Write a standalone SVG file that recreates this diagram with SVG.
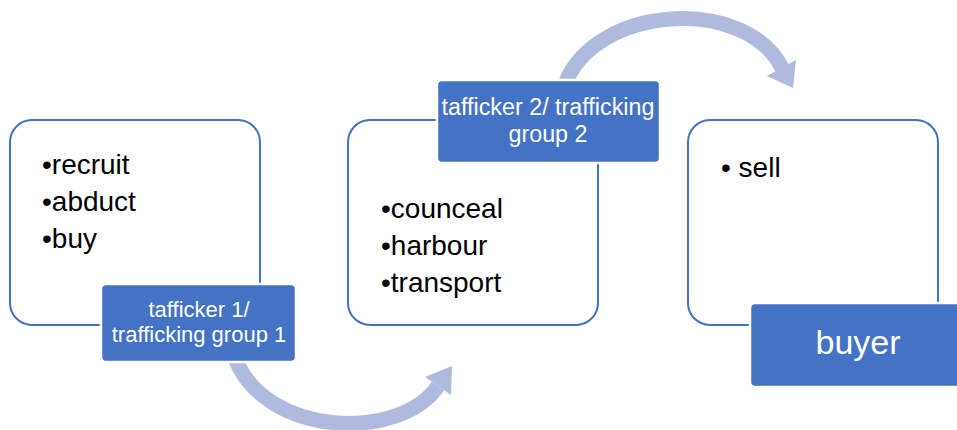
<svg xmlns="http://www.w3.org/2000/svg" width="957" height="430" viewBox="0 0 957 430">
<defs>
<style>
.box{fill:#fff;stroke:#4472C4;stroke-width:2}
.lbl{fill:#4472C4;stroke:#fff;stroke-width:2.5}
.item{font-family:"Liberation Sans",Arial,sans-serif;font-size:28px;fill:#000}
.ltxt{font-family:"Liberation Sans",Arial,sans-serif;fill:#fff;text-anchor:middle}
.arc{fill:none;stroke:#AFBADD;stroke-width:15}
.head{fill:#AFBADD}
</style>
</defs>
<rect width="957" height="430" fill="#fff"/>
<g id="connectors">
<path class="arc" d="M235,358 C265,437 400,442 438,386"/>
<polygon class="head" points="425,377 452,366 451,395"/>
<path class="arc" d="M565,84 C595,5 745,-5 782,68"/>
<polygon class="head" points="767,76 796,60 793,88"/>
</g>
<g id="node1">
<rect class="box" x="10" y="120" width="250" height="205" rx="22"/>
<text class="item" x="42" y="174">•recruit</text>
<text class="item" x="42" y="211">•abduct</text>
<text class="item" x="42" y="248">•buy</text>
</g>
<g id="label1">
<rect class="lbl" x="101" y="284" width="195" height="78" rx="5"/>
<text class="ltxt" font-size="22" x="199" y="317">tafficker 1/</text>
<text class="ltxt" font-size="22" x="199" y="342">trafficking group 1</text>
</g>
<g id="node2">
<rect class="box" x="348" y="120" width="250" height="205" rx="22"/>
<text class="item" x="381" y="218">•counceal</text>
<text class="item" x="381" y="255">•harbour</text>
<text class="item" x="381" y="292">•transport</text>
</g>
<g id="label2">
<rect class="lbl" x="437" y="80" width="223" height="83" rx="5"/>
<text class="ltxt" font-size="23.3" x="548" y="115">tafficker 2/ trafficking</text>
<text class="ltxt" font-size="23.3" x="548" y="142">group 2</text>
</g>
<g id="node3">
<rect class="box" x="688" y="120" width="250" height="205" rx="22"/>
<text class="item" x="721" y="177">• sell</text>
</g>
<g id="label3">
<rect class="lbl" x="750" y="303" width="220" height="84" rx="5"/>
<text class="ltxt" font-size="34" x="858" y="354">buyer</text>
</g>
</svg>
